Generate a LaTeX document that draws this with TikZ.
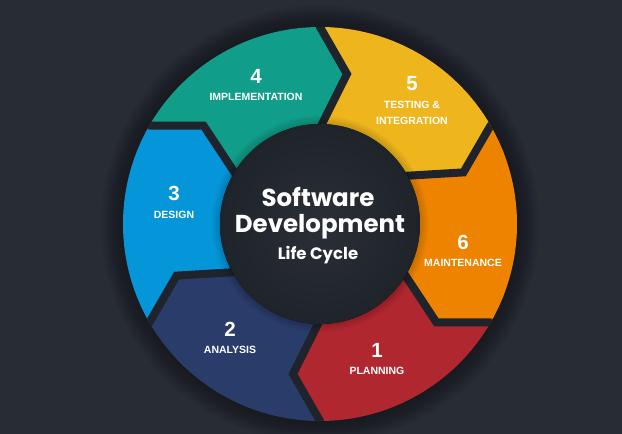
\documentclass[tikz,border=0pt]{standalone}
\usepackage{fontspec}
\setmainfont{Liberation Sans}
\newfontfamily\poppins{Poppins}
\usepackage{tikz}
\usetikzlibrary{calc,positioning}
\definecolor{NightBack}{RGB}{39,44,53}
\definecolor{NightGap}{RGB}{31,35,43}
\definecolor{HubDark}{RGB}{31,35,42}
\definecolor{HubLight}{RGB}{42,47,56}
\definecolor{StepRed}{RGB}{176,39,47}
\definecolor{StepNavy}{RGB}{42,60,106}
\definecolor{StepBlue}{RGB}{5,150,218}
\definecolor{StepTeal}{RGB}{16,157,137}
\definecolor{StepYellow}{RGB}{238,182,28}
\definecolor{StepOrange}{RGB}{238,131,0}
\tikzset{
  stepnum/.style={text=white,inner sep=0pt,font=\bfseries\fontsize{20.5}{20.5}\selectfont},
  steplab/.style={text=white,inner sep=0pt,align=center,font=\bfseries\fontsize{10.5}{16}\selectfont},
  hubtext/.style={text=white,inner sep=0pt,anchor=base,font=\poppins\bfseries\fontsize{24.5}{24.5}\selectfont},
  gapline/.style={NightGap,line width=8pt,line join=miter}
}

\begin{document}
\begin{tikzpicture}[x=1pt,y=1pt]
  \useasboundingbox (-320,-210) rectangle (302,224);
  \clip (-320,-210) rectangle (302,224);
  \fill[NightBack] (-320,-210) rectangle (302,224);
  % soft shadow round the ring
  \foreach \k in {2,4,...,22}{\fill[black,opacity=0.03] (0,0) circle (197+\k);}
  % six arrow segments, clockwise from planning
  \foreach \a/\col in {330/StepRed,270/StepNavy,210/StepBlue,150/StepTeal,90/StepYellow,30/StepOrange}{
    \pgfmathsetmacro{\b}{\a-60}
    \fill[\col] (\a:197) arc[start angle=\a,end angle=\b,radius=197]
      -- ($(\b:150)+(\b-90:27)$) -- (\b:96) arc[start angle=\b,end angle=\a,radius=96]
      -- ($(\a:150)+(\a-90:27)$) -- cycle;
  }
  \begin{scope}
    \clip (0,0) circle (197);
    \foreach \a in {30,90,...,330}{
      \draw[gapline] (\a:210) -- (\a:197) -- ($(\a:150)+(\a-90:27)$) -- (\a:96) -- (\a:90);}
  \end{scope}
  % hub
  \foreach \k in {2,4,...,8}{\fill[black,opacity=0.04] (0,0) circle (100+\k);}
  \fill[inner color=HubLight,outer color=HubDark] (0,0) circle (100);
  \node[hubtext] (soft) at (-2,17) {Software};
  \node[hubtext] (dev) at (0,-8.7) {Development};
  \node[hubtext,font=\poppins\bfseries\fontsize{16.5}{16.5}\selectfont] (life) at (-2,-35) {Life Cycle};
  % step numbers and names
  \foreach \n/\pos/\txt in {1/{57,-126}/PLANNING,2/{-90,-105}/ANALYSIS,3/{-146,31}/DESIGN,
      4/{-64,148}/IMPLEMENTATION,5/{92,140}/{TESTING \&\\INTEGRATION},6/{143,-18}/MAINTENANCE}{
    \node[stepnum] (num\n) at (\pos) {\n};
    \node[steplab,below=10pt of num\n] (lab\n) {\txt};
  }
\end{tikzpicture}
\end{document}
